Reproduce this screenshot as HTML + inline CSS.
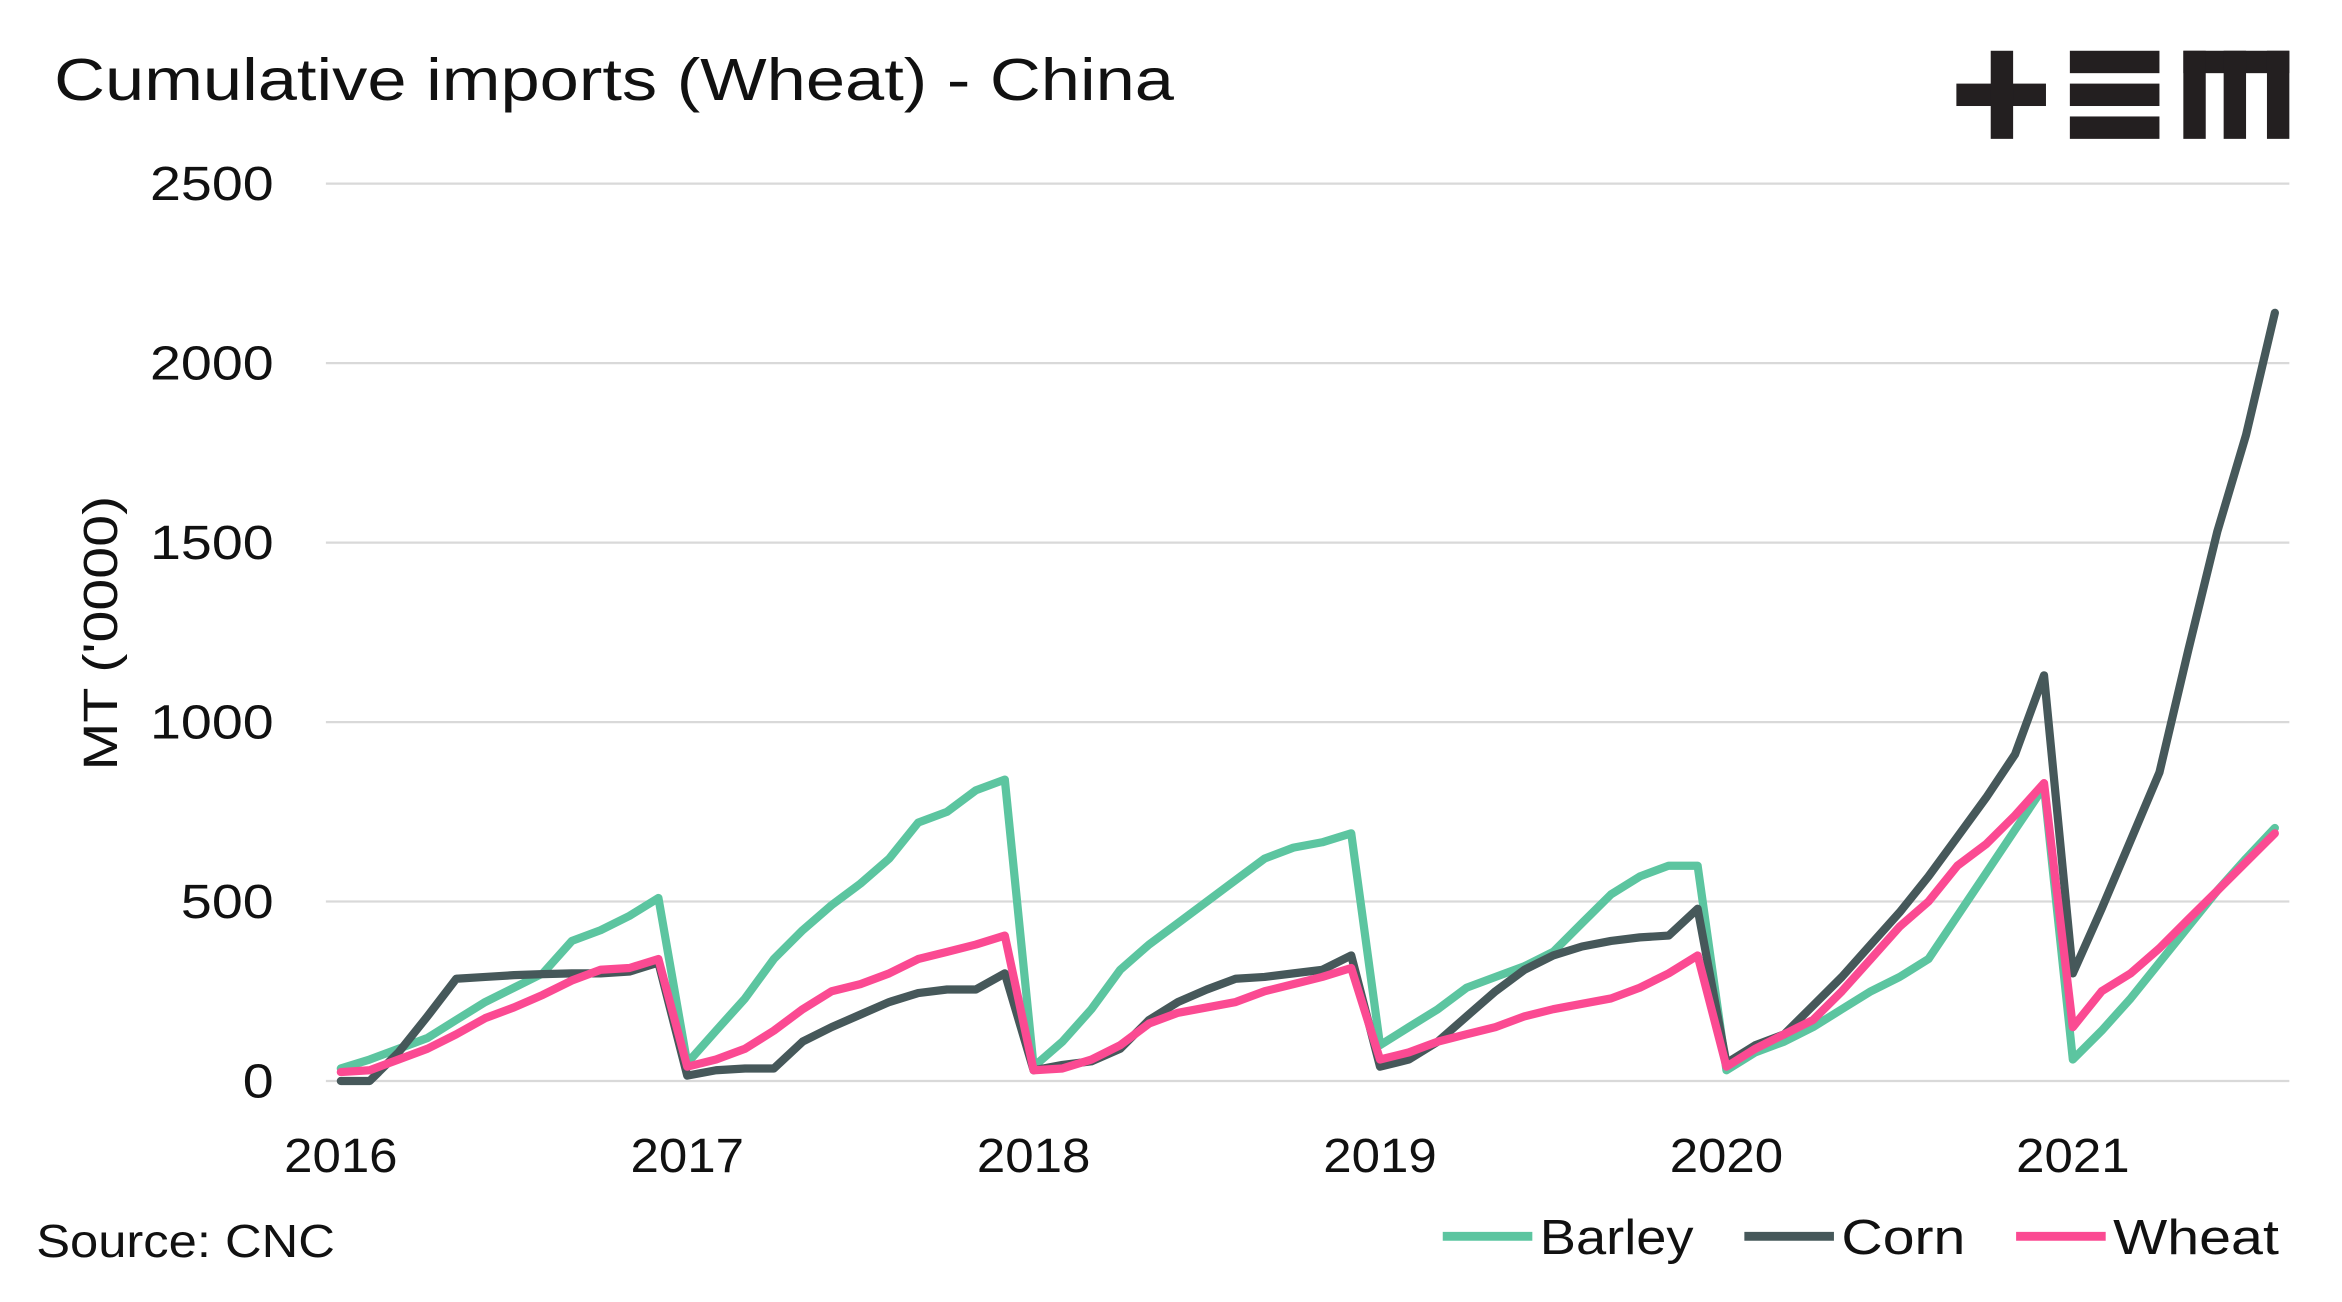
<!DOCTYPE html>
<html><head><meta charset="utf-8"><style>
html,body{margin:0;padding:0;background:#fff}
svg{display:block;font-family:"Liberation Sans",sans-serif}
</style></head><body>
<svg id="chart" width="2342" height="1302" viewBox="0 0 1568 872" xmlns="http://www.w3.org/2000/svg">
<text x="36" y="67" font-size="40" fill="#111" textLength="750" lengthAdjust="spacingAndGlyphs">Cumulative imports (Wheat) - China</text>
<g fill="#231f20">
<rect x="1310" y="56" width="60" height="15"/><rect x="1333" y="34" width="15" height="59"/>
<rect x="1386" y="34" width="60" height="15"/><rect x="1386" y="56" width="60" height="15"/><rect x="1386" y="78" width="60" height="15"/>
<rect x="1462" y="34" width="71" height="15"/><rect x="1462" y="34" width="15" height="59"/><rect x="1489" y="34" width="15" height="59"/><rect x="1518" y="34" width="15" height="59"/>
</g>
<g id="grid"></g>
<g id="yticks"></g>
<g id="xticks"></g>
<text transform="translate(78,424) rotate(-90)" text-anchor="middle" font-size="32" fill="#111" textLength="184" lengthAdjust="spacingAndGlyphs">MT ('0000)</text>
<g id="series"></g>
<text x="24" y="842" font-size="31" fill="#111" textLength="200" lengthAdjust="spacingAndGlyphs">Source: CNC</text>
<g font-size="33" fill="#111">
<g><line x1="966" y1="828" x2="1026" y2="828" stroke="#5cc5a0" stroke-width="6"/><text x="1031" y="840" textLength="103" lengthAdjust="spacingAndGlyphs">Barley</text></g>
<g><line x1="1168" y1="828" x2="1228" y2="828" stroke="#46585a" stroke-width="6"/><text x="1233" y="840" textLength="83" lengthAdjust="spacingAndGlyphs">Corn</text></g>
<g><line x1="1350" y1="828" x2="1410" y2="828" stroke="#fb4a92" stroke-width="6"/><text x="1415" y="840" textLength="111" lengthAdjust="spacingAndGlyphs">Wheat</text></g>
</g>
</svg>
<script>
const yTicks=[0,500,1000,1500,2000,2500];
const xYears=[2016,2017,2018,2019,2020,2021];
const barley=[35,60,90,120,170,220,260,300,390,420,460,510, 50,140,230,340,420,490,550,620,720,750,810,840, 40,110,200,310,380,440,500,560,620,650,665,690, 100,150,200,260,290,320,360,440,520,570,600,600, 30,80,110,150,200,250,290,340,460,580,700,820, 60,140,230,330,430,530,620,705];
const corn=[0,0,80,180,285,290,295,298,300,300,305,330, 15,30,35,35,110,150,185,220,245,255,255,300, 30,45,55,90,170,220,255,285,290,300,310,350, 40,60,110,180,250,310,350,375,390,400,405,480, 50,100,130,210,290,380,470,570,680,790,910,1130, 300,480,670,860,1200,1530,1800,2140];
const wheat=[25,30,60,90,130,175,205,240,280,310,315,340, 40,60,90,140,200,250,270,300,340,360,380,405, 30,35,60,100,160,190,205,220,250,270,290,315, 60,80,110,130,150,180,200,215,230,260,300,350, 40,90,130,170,250,340,430,500,600,660,740,830, 150,250,300,370,450,530,610,690];
const NS="http://www.w3.org/2000/svg";
const y=v=>724-v*(601/2500);
const x=t=>228+(t-2016)*232;
const mk=(tag,attrs,parent)=>{const e=document.createElementNS(NS,tag);for(const k in attrs)e.setAttribute(k,attrs[k]);parent.appendChild(e);return e;};
const grid=document.getElementById('grid'),yt=document.getElementById('yticks'),xt=document.getElementById('xticks'),ser=document.getElementById('series');
yTicks.forEach(v=>{
 const l=mk('line',{x1:218,x2:1533,y1:y(v),y2:y(v),stroke:'#d9d9d9','stroke-width':1.5},grid);
 
 
 const s=String(v);
 const t=mk('text',{x:183,y:y(v)+11,'text-anchor':'end','font-size':32,fill:'#111',textLength:(s.length*20.7).toFixed(1),lengthAdjust:'spacingAndGlyphs'},yt);
 t.textContent=s;
 
 
});
xYears.forEach(yr=>{
 const t=mk('text',{x:x(yr),y:785,'text-anchor':'middle','font-size':32,fill:'#111',textLength:76,lengthAdjust:'spacingAndGlyphs'},xt);
 t.textContent=yr;
 
 
});
[[barley,'#5cc5a0','barley-line'],[corn,'#46585a','corn-line'],[wheat,'#fb4a92','wheat-line']].forEach(([d,c,n])=>{
 const pts=d.map((v,i)=>x(2016+i/12).toFixed(1)+','+y(v).toFixed(1)).join(' ');
 const p=mk('polyline',{points:pts,fill:'none',stroke:c,'stroke-width':5.5,'stroke-linejoin':'round','stroke-linecap':'round'},ser);
 
 
});
</script>
</body></html>
